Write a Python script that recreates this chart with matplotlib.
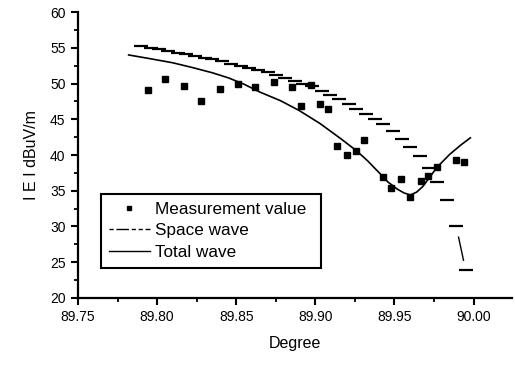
import matplotlib
matplotlib.use("Agg")
import matplotlib.pyplot as plt
from matplotlib.lines import Line2D
from matplotlib.ticker import MultipleLocator

plt.rcParams['font.family'] = ['Liberation Sans', 'DejaVu Sans']

# measured field strength
meas_deg = [89.794, 89.805, 89.817, 89.828, 89.840, 89.851, 89.862, 89.874,
            89.885, 89.891, 89.897, 89.903, 89.908, 89.914, 89.920, 89.926,
            89.931, 89.943, 89.948, 89.954, 89.960, 89.967, 89.971, 89.977,
            89.989, 89.994]
meas_val = [49.1, 50.7, 49.6, 47.5, 49.2, 50.0, 49.5, 50.2,
            49.5, 46.9, 49.8, 47.1, 46.4, 41.3, 40.0, 40.6,
            42.1, 36.9, 35.4, 36.6, 34.1, 36.3, 37.1, 38.3,
            39.3, 39.0]

# space wave (computed, stepped)
space_deg = [89.790, 89.796, 89.801, 89.807, 89.813, 89.818, 89.824, 89.830,
             89.835, 89.841, 89.847, 89.853, 89.858, 89.864, 89.870, 89.875,
             89.881, 89.887, 89.892, 89.898, 89.904, 89.909, 89.915, 89.921,
             89.926, 89.932, 89.938, 89.943, 89.949, 89.955, 89.960, 89.966,
             89.972, 89.977, 89.983, 89.989, 89.995]
space_val = [55.2, 55.0, 54.8, 54.5, 54.3, 54.1, 53.9, 53.6,
             53.4, 53.1, 52.8, 52.5, 52.2, 51.9, 51.6, 51.2,
             50.8, 50.4, 50.0, 49.6, 49.0, 48.4, 47.8, 47.2,
             46.5, 45.8, 45.0, 44.3, 43.4, 42.3, 41.1, 39.8,
             38.2, 36.2, 33.7, 30.1, 23.9]

# total wave (computed)
total_deg = [89.782, 89.795, 89.810, 89.823, 89.835, 89.845, 89.855, 89.865,
             89.878, 89.890, 89.903, 89.916, 89.926, 89.933, 89.940, 89.946,
             89.952, 89.956, 89.960, 89.964, 89.968, 89.972, 89.977, 89.985,
             89.992, 89.998]
total_val = [54.0, 53.5, 52.9, 52.2, 51.5, 50.8, 49.9, 48.8,
             47.6, 46.2, 44.4, 42.3, 40.6, 39.2, 37.6, 36.2,
             35.2, 34.7, 34.4, 34.8, 35.6, 36.8, 38.3, 40.1,
             41.4, 42.4]

fig = plt.figure(figsize=(5.15, 3.66), dpi=100)
ax = fig.add_axes([0.1515, 0.186, 0.8435, 0.781])

ax.plot(total_deg, total_val, color='black', lw=1.2)
ax.plot(space_deg, space_val, linestyle='none', marker='_', markersize=9.5,
        markeredgewidth=1.6, color='black')
# short slanted dash between the last two space-wave steps
ax.plot(space_deg[-2:], space_val[-2:], color='black', lw=1.0,
        linestyle=(60.1, (18, 50)))
ax.plot(meas_deg, meas_val, linestyle='none', marker='s', markersize=4,
        color='black')

ax.set_xlim(89.75, 90.0246)
ax.set_ylim(20, 60)
ax.xaxis.set_major_locator(MultipleLocator(0.05))
ax.xaxis.set_minor_locator(MultipleLocator(0.025))
ax.yaxis.set_major_locator(MultipleLocator(5))
ax.yaxis.set_minor_locator(MultipleLocator(2.5))
ax.xaxis.set_major_formatter(plt.FormatStrFormatter('%.2f'))

for side in ['top', 'right']:
    ax.spines[side].set_visible(False)
for side in ['left', 'bottom']:
    ax.spines[side].set_linewidth(1.6)
ax.tick_params(which='major', direction='out', length=5, width=1.5,
               labelsize=10, pad=4)
ax.tick_params(which='minor', direction='out', length=3, width=1.3)

ax.set_xlabel('Degree', fontsize=11.5, labelpad=8)
ax.set_ylabel('I E I dBuV/m', fontsize=11.5, labelpad=8)

handles = [
    Line2D([], [], linestyle='none', marker='s', markersize=3.5, color='black'),
    Line2D([], [], color='black', lw=1.0, linestyle=(0, (3, 2, 9, 2, 3, 2))),
    Line2D([], [], color='black', lw=1.0),
]
labels = ['Measurement value', 'Space wave', 'Total wave']
leg = ax.legend(handles, labels, loc='lower left', mode='expand',
                bbox_to_anchor=(0.053, 0.105, 0.506, 0.27), fontsize=12.3,
                frameon=True, fancybox=False, edgecolor='black', framealpha=1,
                handlelength=2.4, handletextpad=0.3, borderpad=0.45,
                labelspacing=0.4, borderaxespad=0)
leg.get_frame().set_linewidth(1.5)

fig.savefig('out.png', dpi=100)
